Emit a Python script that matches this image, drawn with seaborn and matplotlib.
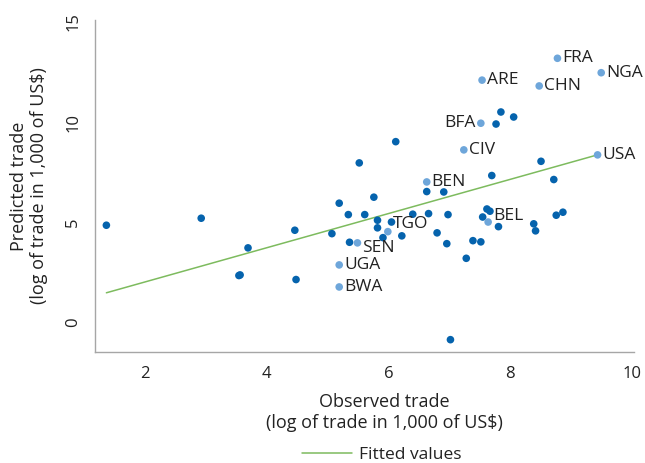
import numpy as np
import pandas as pd
import matplotlib
matplotlib.use("Agg")
import matplotlib.pyplot as plt
import seaborn as sns

# ---- data ----
dark_observed = [1.36, 2.92, 3.69, 3.54, 3.56, 4.46, 4.48, 5.19, 5.07, 5.34, 5.76, 5.61,
                 5.36, 5.82, 5.82, 6.05, 5.91, 6.22, 6.40, 6.66, 6.80, 6.96, 6.98, 7.02,
                 6.63, 6.91, 6.12, 5.52, 7.28, 7.39, 7.52, 7.55, 7.62, 7.67, 7.81, 8.39,
                 8.42, 8.76, 8.87, 7.85, 8.06, 7.77, 8.51, 7.70, 8.72]
dark_predicted = [4.86, 5.21, 3.73, 2.35, 2.38, 4.61, 2.15, 5.96, 4.44, 5.39, 6.26, 5.39,
                  4.01, 5.11, 4.73, 5.02, 4.24, 4.33, 5.41, 5.44, 4.48, 3.94, 5.39, -0.85,
                  6.54, 6.52, 9.03, 7.97, 3.21, 4.09, 4.03, 5.27, 5.67, 5.56, 4.79, 4.93,
                  4.58, 5.36, 5.51, 10.51, 10.26, 9.91, 8.05, 7.34, 7.14]

label_codes = ["SEN", "UGA", "BWA", "TGO", "BEN", "BEL", "CIV", "BFA", "ARE", "CHN", "FRA", "NGA", "USA"]
label_observed = [5.49, 5.19, 5.19, 5.99, 6.63, 7.64, 7.24, 7.52, 7.54, 8.48, 8.78, 9.50, 9.44]
label_predicted = [3.98, 2.88, 1.78, 4.54, 7.02, 5.02, 8.62, 9.95, 12.10, 11.81, 13.19, 12.47, 8.37]

fit_intercept = 0.33
fit_slope = 0.852

x_ticks = [2, 4, 6, 8, 10]
y_ticks = [0, 5, 10, 15]

# ---- styling ----
DARK = "#0563ad"
LIGHT = "#6ea6da"
GREEN = "#7dbb5e"
TXT = "#222222"
SPINE = "#a6a6a6"

sns.set_theme(style="white")
plt.rcParams["font.family"] = ["Open Sans", "DejaVu Sans"]

df = pd.DataFrame({
    "observed": dark_observed + label_observed,
    "predicted": dark_predicted + label_predicted,
    "group": ["other"] * len(dark_observed) + ["labeled"] * len(label_observed),
})

fig = plt.figure(figsize=(6.45, 4.63), dpi=100)
ax = fig.add_axes([0.1473, 0.2404, 0.8357, 0.7164])

all_x = np.array(df["observed"])
line_x = np.array([all_x.min(), label_observed[label_codes.index("USA")]])
line_df = pd.DataFrame({"observed": line_x, "fitted": fit_intercept + fit_slope * line_x})
sns.lineplot(data=line_df, x="observed", y="fitted", ax=ax, color=GREEN, lw=1.1,
             label="Fitted values", zorder=1)

sns.scatterplot(data=df, x="observed", y="predicted", hue="group",
                palette={"other": DARK, "labeled": LIGHT}, s=30, linewidth=0,
                legend=False, ax=ax, zorder=3)

offsets = {"TGO": (3.5, 5.5), "SEN": (3.5, -3.5), "BEL": (3.5, 4.5), "BFA": (-3.5, 0)}
for code, ox, oy in zip(label_codes, label_observed, label_predicted):
    dx, dy = offsets.get(code, (3.5, 0))
    ax.annotate(code, (ox, oy), xytext=(dx, dy), textcoords="offset points",
                ha="right" if dx < 0 else "left", va="center",
                fontsize=12.5, color=TXT)

ax.set_xlim(1.173, 10.04)
ax.set_ylim(-1.45, 15.1)
ax.set_xticks(x_ticks)
ax.set_yticks(y_ticks)
ax.set_xticklabels([str(v) for v in x_ticks])
ax.set_yticklabels([str(v) for v in y_ticks], rotation=90, va="center")

for side in ["top", "right"]:
    ax.spines[side].set_visible(False)
for side in ["left", "bottom"]:
    ax.spines[side].set_color(SPINE)
    ax.spines[side].set_linewidth(1.0)

ax.tick_params(axis="both", which="both", direction="out", length=5, width=1,
               color=SPINE, labelcolor=TXT, labelsize=12)
ax.tick_params(axis="x", pad=5)
ax.tick_params(axis="y", pad=5)

ax.set_xlabel("Observed trade\n(log of trade in 1,000 of US$)", fontsize=13, color=TXT,
              linespacing=1.2)
ax.xaxis.set_label_coords(0.537, -0.124, transform=ax.transAxes)
ax.xaxis.label.set_va("top")
ax.set_ylabel("Predicted trade\n(log of trade in 1,000 of US$)", fontsize=13, color=TXT,
              linespacing=1.15)
ax.yaxis.label.set_va("center")
ax.yaxis.set_label_coords(-0.122, 0.5)

leg = ax.legend(loc="center", bbox_to_anchor=(0.532, -0.31), frameon=False,
                fontsize=12.5, handlelength=2.9, handletextpad=0.4,
                borderaxespad=0, borderpad=0)
for t in leg.get_texts():
    t.set_color(TXT)

fig.savefig("out.png", dpi=100)
